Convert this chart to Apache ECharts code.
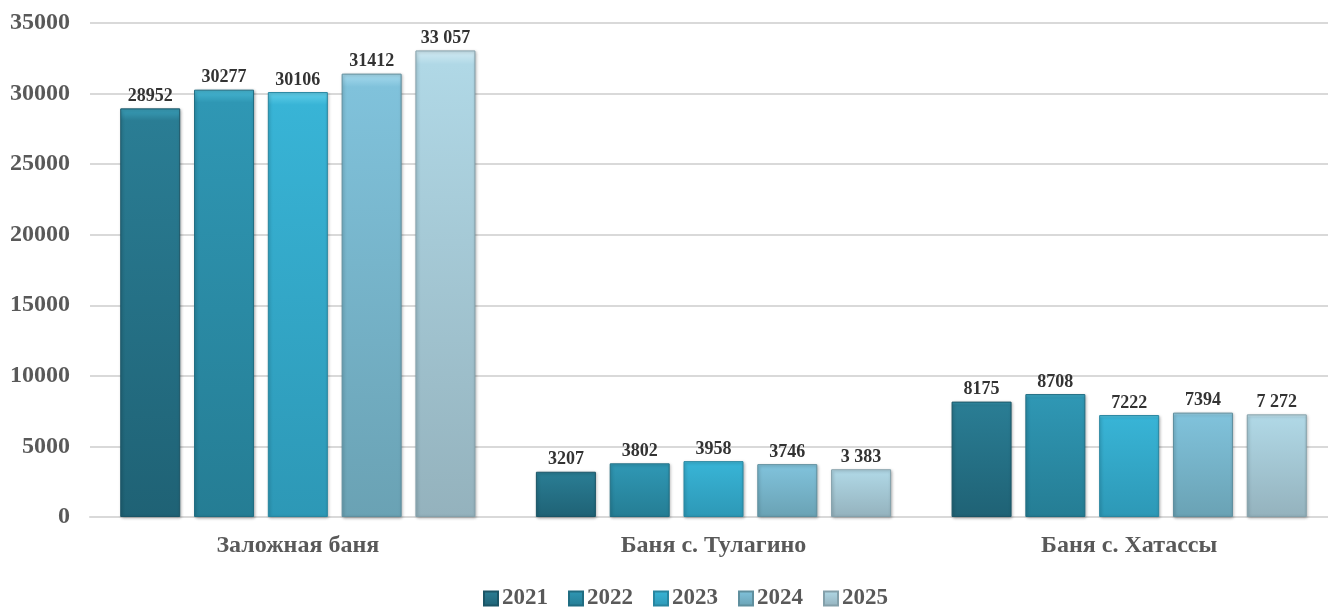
<!DOCTYPE html>
<html><head><meta charset="utf-8">
<script src="https://cdn.jsdelivr.net/npm/echarts@6/dist/echarts.min.js"></script>
<style>html,body{margin:0;padding:0;background:#fff;overflow:hidden;width:1328px;height:607px}#c{width:1337px;height:607px}</style>
</head><body><div id="c"></div>
<script>
const categories = ['Заложная баня', 'Баня с. Тулагино', 'Баня с. Хатассы'];
const years = ['2021', '2022', '2023', '2024', '2025'];
const v2021 = [28952, 3207, 8175];
const v2022 = [30277, 3802, 8708];
const v2023 = [30106, 3958, 7222];
const v2024 = [31412, 3746, 7394];
const v2025 = [33057, 3383, 7272];
const yTicks = [0, 5000, 10000, 15000, 20000, 25000, 30000, 35000];

const seriesValues = [v2021, v2022, v2023, v2024, v2025];
const palette = [
  {top:'#3aa0ba', mid:'#2a7d94', bot:'#1f6275', border:'#1b5566'},
  {top:'#48b8d4', mid:'#2f97b4', bot:'#257d94', border:'#206d82'},
  {top:'#62d0ea', mid:'#38b4d6', bot:'#2d98b6', border:'#2886a0'},
  {top:'#a8dbee', mid:'#80c2db', bot:'#6aa2b4', border:'#5f8f9e'},
  {top:'#d2ebf4', mid:'#b0d8e6', bot:'#94b2bd', border:'#84a0aa'}
];
const font = 'Liberation Serif';
function spaced(n){ return String(n).replace(/\B(?=(\d{3})+(?!\d))/g, ' '); }

const chart = echarts.init(document.getElementById('c'));
chart.setOption({
  animation: false,
  grid: {left: 90, right: 0, top: 23, bottom: 90, containLabel: false},
  legend: {
    top: 587, left: 483, padding: 0, itemWidth: 14, itemHeight: 14, itemGap: 20,
    icon: 'rect',
    textStyle: {fontFamily: font, fontWeight: 'bold', fontSize: 23, color: '#595959', padding: [0,0,0,-1]},
    data: years
  },
  xAxis: {
    type: 'category', data: categories,
    axisLine: {show: true, lineStyle: {color: '#d9d9d9', width: 2}},
    axisTick: {show: false},
    axisLabel: {fontFamily: font, fontWeight: 'bold', fontSize: 24, color: '#595959', margin: 17}
  },
  yAxis: {
    type: 'value', min: 0, max: 35000, interval: 5000,
    axisLine: {show: false}, axisTick: {show: false},
    splitLine: {lineStyle: {color: '#d9d9d9', width: 2}},
    axisLabel: {fontFamily: font, fontWeight: 'bold', fontSize: 24, color: '#595959', margin: 20,
      formatter: v => yTicks.includes(v) ? String(v) : ''}
  },
  series: seriesValues.map((vals, i) => ({
    name: years[i], type: 'bar', data: vals,
    barWidth: 60, barGap: '23%',
    itemStyle: {
      color: new echarts.graphic.LinearGradient(0, 0, 0, 1, [
        {offset: 0, color: palette[i].top},
        {offset: 0.03, color: palette[i].mid},
        {offset: 1, color: palette[i].bot}
      ]),
      borderColor: palette[i].border, borderWidth: 1,
      shadowColor: 'rgba(0,0,0,0.3)', shadowBlur: 3, shadowOffsetX: 1, shadowOffsetY: 1
    },
    label: {
      show: true, position: 'top', distance: 3,
      fontFamily: font, fontWeight: 'bold', fontSize: 18, color: '#333333',
      formatter: p => i === 4 ? spaced(p.value) : String(p.value)
    }
  }))
});
</script></body></html>
